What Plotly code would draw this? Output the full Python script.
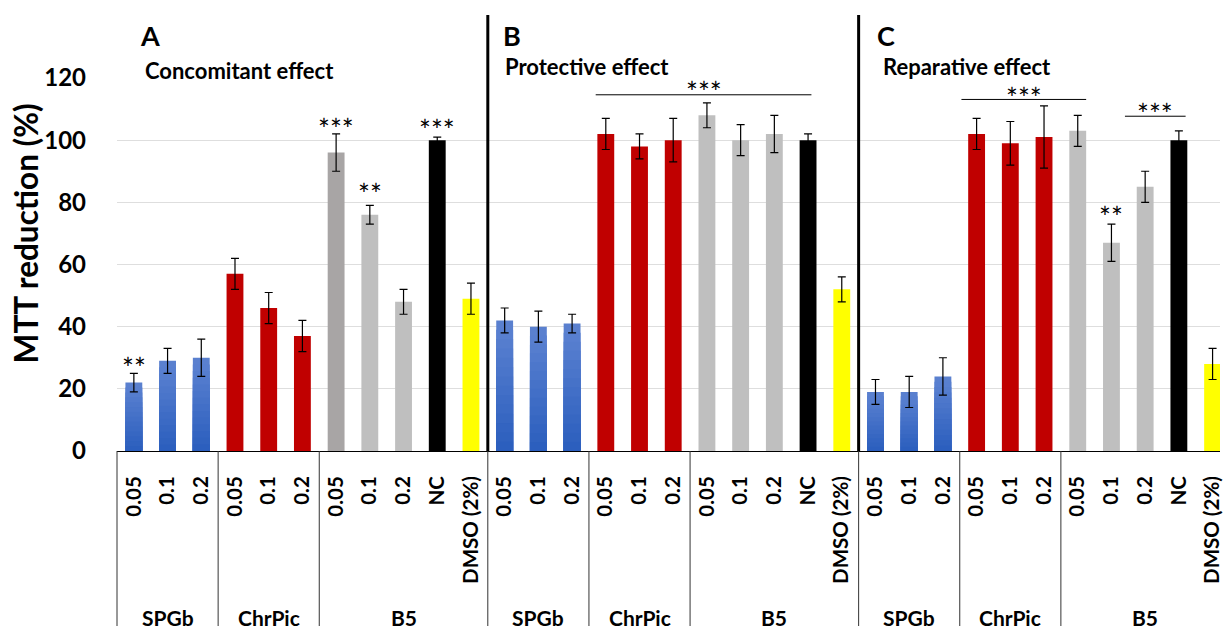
import plotly.graph_objects as go

# ---------------- data ----------------
panel_letters = ["A", "B", "C"]
panel_titles = ["Concomitant effect", "Protective effect", "Reparative effect"]
group_names = ["SPGb", "ChrPic", "B5"]
tick_labels = ["0.05", "0.1", "0.2", "0.05", "0.1", "0.2", "0.05", "0.1", "0.2", "NC", "DMSO (2%)"]
bar_kinds = ["SPGb", "SPGb", "SPGb", "ChrPic", "ChrPic", "ChrPic", "B5", "B5", "B5", "NC", "DMSO"]

concomitant = [22, 29, 30, 57, 46, 37, 96, 76, 48, 100, 49]
concomitant_err = [3, 4, 6, 5, 5, 5, 6, 3, 4, 1, 5]
protective = [42, 40, 41, 102, 98, 100, 108, 100, 102, 100, 52]
protective_err = [4, 5, 3, 5, 4, 7, 4, 5, 6, 2, 4]
reparative = [19, 19, 24, 102, 99, 101, 103, 67, 85, 100, 28]
reparative_err = [4, 5, 6, 5, 7, 10, 5, 6, 5, 3, 5]

# significance marks: (bar index over all panels, text, level of the asterisks)
sig_stars = [(0, "**", 28.6), (6, "***", 105.5), (7, "**", 84.7), (9, "***", 105.3), (29, "**", 77.3)]
# brackets: (x start, x end, line level, text level)
sig_brackets = [(13.7, 20.1, 114.6, 117.3), (24.55, 28.25, 113.1, 115.4), (29.4, 31.2, 107.7, 110.3)]

# ---------------- styles ----------------
kind_color = {"SPGb": "#5a80cf", "ChrPic": "#c00000", "B5": "#bfbfbf", "NC": "#000000", "DMSO": "#ffff00"}
blue_top = (92, 130, 209)
blue_bottom = (44, 95, 190)
N_BANDS = 14
FONT = "Lato, 'Open Sans', sans-serif"

values = concomitant + protective + reparative
errors = concomitant_err + protective_err + reparative_err
kinds = bar_kinds * 3
n_per = len(tick_labels)
xs = list(range(len(values)))
colors = [kind_color[k] for k in kinds]
colors[6] = "#a8a5a5"  # first B5 bar of panel A is a darker grey

fig = go.Figure()
fig.add_trace(go.Bar(
    x=xs, y=values, width=0.5,
    marker=dict(color=colors, line=dict(width=0)),
    hoverinfo="skip", showlegend=False,
))

# vertical gradient on the blue (SPGb) bars, built as overlaid bands
blue_x = [x for x, k in zip(xs, kinds) if k == "SPGb"]
blue_v = [v for v, k in zip(values, kinds) if k == "SPGb"]
for b in range(1, N_BANDS):
    t = b / (N_BANDS - 1)
    c = tuple(round(blue_top[i] + (blue_bottom[i] - blue_top[i]) * t) for i in range(3))
    frac = 1 - b / N_BANDS
    fig.add_trace(go.Bar(
        x=blue_x, y=[v * frac for v in blue_v], width=0.5,
        marker=dict(color="rgb(%d,%d,%d)" % c, line=dict(width=0)),
        hoverinfo="skip", showlegend=False,
    ))

# error bars on top of everything
fig.add_trace(go.Bar(
    x=xs, y=values, width=0.5,
    marker=dict(color="rgba(0,0,0,0)", line=dict(width=0)),
    error_y=dict(type="data", array=errors, visible=True, color="#000000", thickness=1.2, width=4),
    hoverinfo="skip", showlegend=False,
))

annotations = []
shapes = []

# panel letters and titles
letter_x = [0.12, 10.89, 22.0]
title_x = [0.27, 10.95, 22.16]
title_y = [1.021, 1.032, 1.032]
for i in range(3):
    annotations.append(dict(x=letter_x[i], y=1.113, xref="x", yref="paper", text="<b>%s</b>" % panel_letters[i],
                            showarrow=False, xanchor="left", yanchor="middle", font=dict(size=27, family=FONT, color="black")))
    annotations.append(dict(x=title_x[i], y=title_y[i], xref="x", yref="paper", text="<b>%s</b>" % panel_titles[i],
                            showarrow=False, xanchor="left", yanchor="middle", font=dict(size=22, family=FONT, color="black")))

# group labels under axis
group_span = [(0, 2), (3, 5), (6, 10)]
for p in range(3):
    for g, (a, b) in enumerate(group_span):
        annotations.append(dict(x=p * n_per + (a + b) / 2, y=-0.447, xref="x", yref="paper",
                                text="<b>%s</b>" % group_names[g], showarrow=False, xanchor="center", yanchor="middle",
                                font=dict(size=21, family=FONT, color="black")))

# separators below the axis
sep_positions = []
for p in range(3):
    for (a, b) in group_span:
        sep_positions.append(p * n_per + a - 0.5)
for sx in sep_positions:
    if sx < 0:
        shapes.append(dict(type="line", xref="paper", yref="paper", x0=0, x1=0, y0=-0.48, y1=0,
                           line=dict(color="#333333", width=1)))
    else:
        shapes.append(dict(type="line", xref="x", yref="paper", x0=sx, x1=sx, y0=-0.48, y1=0,
                           line=dict(color="#333333", width=1)))
# thick panel separators
for p in (1, 2):
    sx = p * n_per - 0.5
    shapes.append(dict(type="line", xref="x", yref="paper", x0=sx, x1=sx, y0=0, y1=1.169,
                       line=dict(color="#000000", width=3)))

# significance asterisks
for (bi, txt, lvl) in sig_stars:
    annotations.append(dict(x=bi, y=lvl, xref="x", yref="y", text=txt, showarrow=False, yshift=-6,
                            xanchor="center", yanchor="middle", font=dict(size=28, family=FONT, color="black")))
for (x0, x1, ly, ty) in sig_brackets:
    shapes.append(dict(type="line", xref="x", yref="y", x0=x0, x1=x1, y0=ly, y1=ly,
                       line=dict(color="#000000", width=1)))
    annotations.append(dict(x=(x0 + x1) / 2, y=ty, xref="x", yref="y", text="***", showarrow=False, yshift=-6,
                            xanchor="center", yanchor="middle", font=dict(size=28, family=FONT, color="black")))

# y axis title
annotations.append(dict(x=-0.0823, y=0.584, xref="paper", yref="paper", text="<b>MTT reduction (%)</b>",
                        textangle=-90, showarrow=False, xanchor="center", yanchor="middle",
                        font=dict(size=31.5, family=FONT, color="black")))

fig.update_layout(
    width=1223, height=626,
    margin=dict(l=117, r=0, t=78, b=175, pad=0),
    paper_bgcolor="white", plot_bgcolor="white",
    font=dict(family=FONT, color="black"),
    barmode="overlay",
    xaxis=dict(range=[-0.5, 32.22], tickmode="array", tickvals=xs, ticktext=["<b>%s</b>" % t for t in tick_labels * 3],
               tickangle=-90, tickfont=dict(size=20.5, family=FONT, color="black"), showgrid=False, zeroline=False,
               showline=True, linecolor="#000000", linewidth=1, ticks="", ticklabelstandoff=16,
               ticklabeloverflow="allow", fixedrange=True),
    yaxis=dict(range=[0, 120], tickvals=[0, 20, 40, 60, 80, 100, 120], ticktext=["<b>%d</b>" % v for v in [0, 20, 40, 60, 80, 100, 120]],
               tickfont=dict(size=24, family=FONT, color="black"), showgrid=True, gridcolor="#dedede", gridwidth=1,
               zeroline=False, showline=False, ticks="", ticklabelstandoff=30, fixedrange=True),
    shapes=shapes, annotations=annotations,
)

fig.write_html("out.html", config={"displayModeBar": False},
               post_script="document.body.style.margin='0';document.body.style.overflow='hidden';")
